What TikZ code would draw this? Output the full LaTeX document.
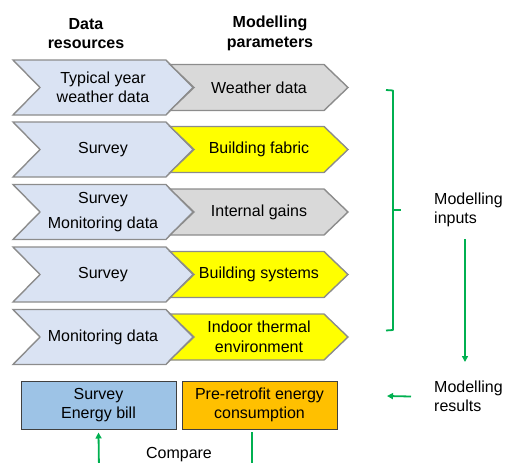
\documentclass[tikz,border=0pt]{standalone}
\usepackage{fontspec}
\setmainfont{Liberation Sans}
\usepackage{xcolor}
\usepackage{tikz}
\usetikzlibrary{arrows.meta}

\definecolor{resblue}{HTML}{DAE3F3}
\definecolor{pargray}{HTML}{D9D9D9}
\definecolor{paryellow}{HTML}{FFFF00}
\definecolor{billblue}{HTML}{9DC3E6}
\definecolor{energyorange}{HTML}{FFC000}
\definecolor{linkgreen}{HTML}{00B050}
\definecolor{edgegray}{HTML}{8C8C8C}

\tikzset{
	chevron/.style = {draw=edgegray, line width=1.4pt, line join=miter},
	label text/.style = {align=center, inner sep=0pt, font=\fontsize{16}{19.5}\selectfont},
	header/.style = {label text, font=\fontsize{16}{19.5}\selectfont\bfseries},
	result box/.style = {draw=black!75, line width=1pt, minimum width=155pt, minimum height=48pt,
		align=center, font=\fontsize{16}{19.5}\selectfont},
	link/.style = {draw=linkgreen, line width=1.8pt},
}

% #1 name, #2 left x, #3 centre y, #4 width, #5 height, #6 notch depth, #7 fill, #8 text
\newcommand{\drawChevron}[8]
{
	\draw[chevron, fill=#7] (#2,{#3-#5/2}) -- ++({#4-#6},0) -- ++(#6,{#5/2})
		-- ++(-#6,{#5/2}) -- ++({#6-#4},0) -- ++(#6,{-#5/2}) -- cycle;
	\node[label text] (#1) at ({#2+#4/2},#3) {#8};
}

\begin{document}
\begin{tikzpicture}[x=1pt, y=-1pt, >={Triangle[length=6pt,width=6pt]}]
\useasboundingbox (0,0) rectangle (515,463);
\clip (0,0) rectangle (515,463);

\node[header] (datahead) at (86,33.5) {Data\\resources};
\node[header] (parhead) at (270,33.5) {Modelling\\parameters};

% data resources
\drawChevron{res1}{13}{87.5}{180}{55}{27}{resblue}{Typical year\\weather data}
\drawChevron{res2}{13}{149.5}{180}{55}{27}{resblue}{Survey}
\drawChevron{res3}{13}{212}{180}{55}{27}{resblue}{Survey\\[6pt]Monitoring data}
\drawChevron{res4}{13}{274.5}{180}{55}{27}{resblue}{Survey}
\drawChevron{res5}{13}{337}{180}{55}{27}{resblue}{Monitoring data}

% modelling parameters
\drawChevron{par1}{170}{87.5}{178}{46}{24}{pargray}{Weather data}
\drawChevron{par2}{170}{149.5}{178}{46}{24}{paryellow}{Building fabric}
\drawChevron{par3}{170}{212}{178}{46}{24}{pargray}{Internal gains}
\drawChevron{par4}{170}{274.5}{178}{46}{24}{paryellow}{Building systems}
\drawChevron{par5}{170}{337}{178}{46}{24}{paryellow}{Indoor thermal\\environment}

% results row
\node[result box, fill=billblue] (bill) at (98.5,405) {Survey\\Energy bill};
\node[result box, fill=energyorange] (energy) at (259.5,405) {Pre-retrofit energy\\consumption};
\node[label text, anchor=base] (compare) at (179,458) {Compare};

% brace over the inputs
\draw[link, line join=round] (386,90) -- (393,90.5) -- (393,330) -- (386,330.5);
\draw[link] (393,210) -- (401,210);

\node[label text, align=left, anchor=west] (inputs) at (434,210) {Modelling\\inputs};
\node[label text, align=left, anchor=west] (results) at (434,396.5) {Modelling\\results};

\coordinate (bottomleft) at (99,470);
\coordinate (energyfoot) at (252,432);
\coordinate (bottomright) at (252,470);
\coordinate (resultstip) at (387,396);

\draw[link, ->] ([yshift=-12pt]inputs.south -| 465,0) -- (465,362);
\draw[link, ->] ([xshift=-23pt]results.west) -- (resultstip);
\draw[link, ->] (bottomleft) -- ([yshift=-3pt]bill.south);
\draw[link] (energyfoot) -- (bottomright);
\end{tikzpicture}
\end{document}
